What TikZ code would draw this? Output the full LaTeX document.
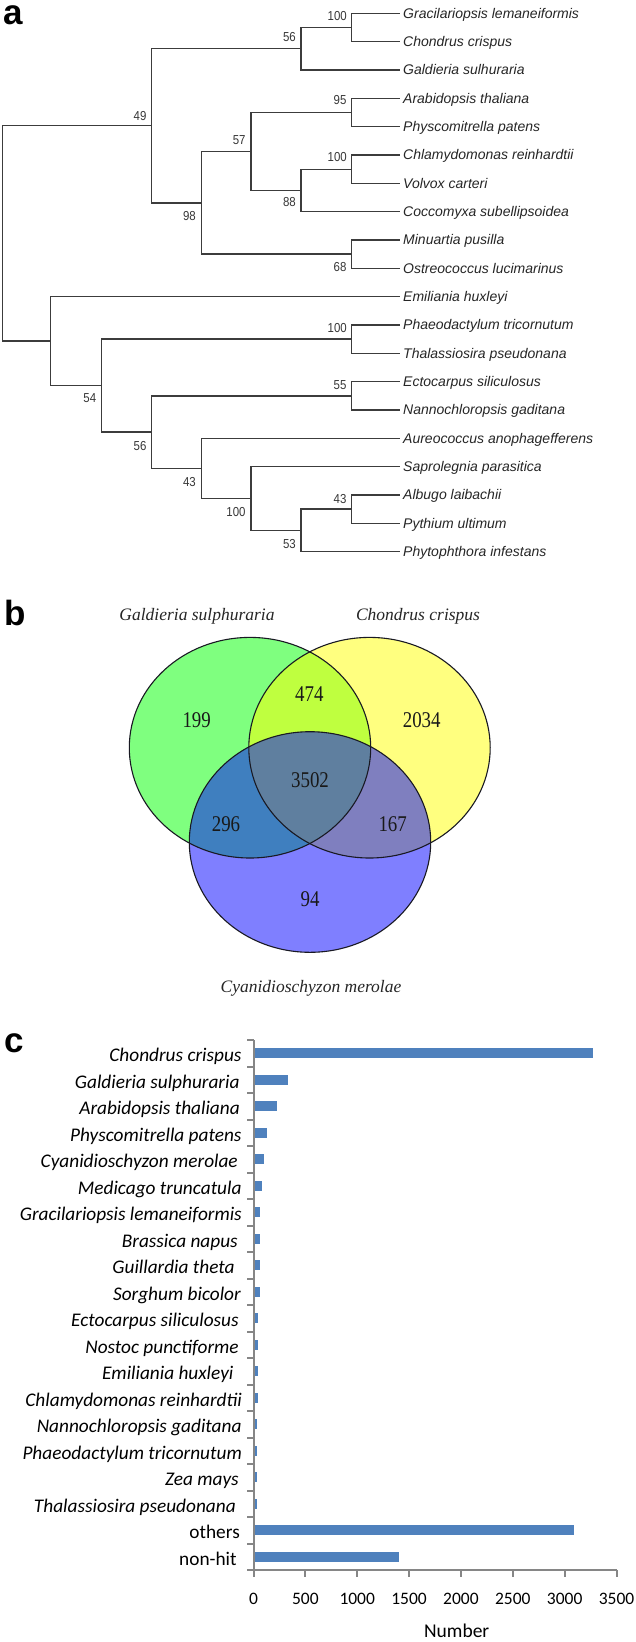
\documentclass[tikz,border=0pt]{standalone}
\usepackage{fontspec}
\usepackage{graphicx}
\setmainfont{Liberation Sans}
\newfontfamily\vennfont{Liberation Serif}
\newfontfamily\barfont{Carlito}
\definecolor{treeline}{RGB}{60,60,60}
\definecolor{bootgray}{RGB}{55,55,55}
\definecolor{barblue}{RGB}{79,129,189}
\definecolor{axisgray}{RGB}{134,134,134}
\definecolor{vgreen}{RGB}{0,255,0}
\definecolor{vyellow}{RGB}{255,255,0}
\definecolor{vblue}{RGB}{0,0,255}
\definecolor{vline}{RGB}{25,25,35}
\newcommand{\bsv}[1]{\scalebox{0.88}[1]{#1}}
\newcommand{\vnum}[1]{\scalebox{0.84}[1]{#1}}
\tikzset{
  branch/.style={draw=treeline, line width=1.4pt},
  leaf/.style={anchor=base west, inner sep=0pt, text=black!85, font=\fontsize{14}{16}\selectfont\itshape},
  boot/.style={anchor=base east, inner sep=0pt, text=bootgray, font=\fontsize{13}{14}\selectfont},
  panel/.style={anchor=base west, inner sep=0pt, font=\fontsize{35}{37}\selectfont\bfseries},
  vtitle/.style={anchor=base, inner sep=0pt, font=\vennfont\fontsize{17.5}{19}\selectfont\itshape, text=black!85},
  vcount/.style={anchor=base, inner sep=0pt, font=\vennfont\fontsize{22.5}{24}\selectfont, text=black!90},
  vring/.style={draw=vline, line width=1.1pt},
  barlab/.style={anchor=base east, inner sep=0pt, font=\barfont\fontsize{19.3}{21}\selectfont},
  ticklab/.style={anchor=base, inner sep=0pt, font=\barfont\fontsize{17.5}{19}\selectfont},
  axisline/.style={draw=axisgray, line width=2pt},
}
\begin{document}
\begin{tikzpicture}[x=1pt,y=-1pt]
\fill[white] (0,0) rectangle (635,1642);
\useasboundingbox (0,0) rectangle (635,1642);

% ---------------- panel a : tree ----------------
\node[panel] (pa) at (3,24.5) {a};
\foreach \nm [count=\i from 0] in {Gracilariopsis lemaneiformis, Chondrus crispus, Galdieria sulhuraria, Arabidopsis thaliana, Physcomitrella patens, Chlamydomonas reinhardtii, Volvox carteri, Coccomyxa subellipsoidea, Minuartia pusilla, Ostreococcus lucimarinus, Emiliania huxleyi, Phaeodactylum tricornutum, Thalassiosira pseudonana, Ectocarpus siliculosus, Nannochloropsis gaditana, Aureococcus anophagefferens, Saprolegnia parasitica, Albugo laibachii, Pythium ultimum, Phytophthora infestans}{
  \pgfmathsetmacro\yy{13.3+28.33*\i}
  \coordinate (L\i) at (400,\yy);
  \node[leaf] (T\i) at (403,\yy+5) {\nm};
}
\coordinate (R) at (2.5,233.4);
\coordinate (n49) at (151.4,125.7);
\coordinate (nA56) at (300.8,48.7);
\coordinate (nA100) at (351.4,27.5);
\coordinate (n98) at (201.2,202.8);
\coordinate (n57) at (251,151.4);
\coordinate (n95) at (351.4,112.5);
\coordinate (n88) at (300.8,190.4);
\coordinate (nB100) at (351.4,169.2);
\coordinate (n68) at (351.4,254.1);
\coordinate (nE) at (50.6,341.1);
\coordinate (n54) at (101.2,385.6);
\coordinate (nC100) at (351.4,339.1);
\coordinate (nB56) at (151.4,432.1);
\coordinate (n55) at (351.4,395.8);
\coordinate (nB43) at (201.2,468.4);
\coordinate (nD100) at (251,498.5);
\coordinate (n53) at (300.8,530.3);
\coordinate (n43a) at (351.4,509.1);

\draw[branch] (R) |- (n49);   \draw[branch] (R) |- (nE);
\draw[branch] (n49) |- (nA56); \draw[branch] (n49) |- (n98);
\draw[branch] (nA56) |- (nA100); \draw[branch] (nA56) |- (L2);
\draw[branch] (nA100) |- (L0); \draw[branch] (nA100) |- (L1);
\draw[branch] (n98) |- (n57); \draw[branch] (n98) |- (n68);
\draw[branch] (n57) |- (n95); \draw[branch] (n57) |- (n88);
\draw[branch] (n95) |- (L3); \draw[branch] (n95) |- (L4);
\draw[branch] (n88) |- (nB100); \draw[branch] (n88) |- (L7);
\draw[branch] (nB100) |- (L5); \draw[branch] (nB100) |- (L6);
\draw[branch] (n68) |- (L8); \draw[branch] (n68) |- (L9);
\draw[branch] (nE) |- (L10); \draw[branch] (nE) |- (n54);
\draw[branch] (n54) |- (nC100); \draw[branch] (n54) |- (nB56);
\draw[branch] (nC100) |- (L11); \draw[branch] (nC100) |- (L12);
\draw[branch] (nB56) |- (n55); \draw[branch] (nB56) |- (nB43);
\draw[branch] (n55) |- (L13); \draw[branch] (n55) |- (L14);
\draw[branch] (nB43) |- (L15); \draw[branch] (nB43) |- (nD100);
\draw[branch] (nD100) |- (L16); \draw[branch] (nD100) |- (n53);
\draw[branch] (n53) |- (n43a); \draw[branch] (n53) |- (L19);
\draw[branch] (n43a) |- (L17); \draw[branch] (n43a) |- (L18);

\node[boot] (bA100) at (347,20.6) {\bsv{100}};
\node[boot] (bA56) at (296,41.6) {\bsv{56}};
\node[boot] (b49) at (146.6,120.1) {\bsv{49}};
\node[boot] (b95) at (346.6,104.6) {\bsv{95}};
\node[boot] (b57) at (245.7,144.6) {\bsv{57}};
\node[boot] (bB100) at (347,161.9) {\bsv{100}};
\node[boot] (b88) at (296,206.9) {\bsv{88}};
\node[boot] (b98) at (196,220.6) {\bsv{98}};
\node[boot] (b68) at (346.6,271.3) {\bsv{68}};
\node[boot] (bC100) at (347,332.9) {\bsv{100}};
\node[boot] (b54) at (96.4,402.9) {\bsv{54}};
\node[boot] (bB56) at (146.6,450.3) {\bsv{56}};
\node[boot] (b55) at (346.6,389.6) {\bsv{55}};
\node[boot] (bB43) at (196,486.3) {\bsv{43}};
\node[boot] (bD100) at (245.7,516.3) {\bsv{100}};
\node[boot] (b53) at (296,548.9) {\bsv{53}};
\node[boot] (b43a) at (346.6,503.6) {\bsv{43}};

% ---------------- panel b : Venn ----------------
\node[panel] (pb) at (4,625) {b};
\node[vtitle] (vtg) at (197,620) {Galdieria sulphuraria};
\node[vtitle] (vtc) at (418,620) {Chondrus crispus};
\node[vtitle] (vtm) at (311,992) {Cyanidioschyzon merolae};
\fill[vgreen, fill opacity=0.5] (250,747.7) ellipse [x radius=120.7, y radius=110.3];
\fill[vyellow, fill opacity=0.5] (369.5,747.7) ellipse [x radius=120.7, y radius=110.3];
\fill[vblue, fill opacity=0.5] (310,842) ellipse [x radius=120.7, y radius=110.3];
\draw[vring] (250,747.7) ellipse [x radius=120.7, y radius=110.3];
\draw[vring] (369.5,747.7) ellipse [x radius=120.7, y radius=110.3];
\draw[vring] (310,842) ellipse [x radius=120.7, y radius=110.3];
\node[vcount] (v199) at (196.7,727.8) {\vnum{199}};
\node[vcount] (v474) at (309.3,701) {\vnum{474}};
\node[vcount] (v2034) at (421.7,727.8) {\vnum{2034}};
\node[vcount] (v3502) at (310,787.8) {\vnum{3502}};
\node[vcount] (v296) at (226,831.8) {\vnum{296}};
\node[vcount] (v167) at (392.7,831.8) {\vnum{167}};
\node[vcount] (v94) at (310,906) {\vnum{94}};

% ---------------- panel c : bar chart ----------------
\node[panel] (pc) at (4,1052) {c};
\foreach \lab/\val/\rx [count=\i from 0] in {
  {\itshape Chondrus crispus}/3273/241.7,
  {\itshape Galdieria sulphuraria}/328/239.7,
  {\itshape Arabidopsis thaliana}/231/240,
  {\itshape Physcomitrella patens}/132/241.7,
  {\itshape Cyanidioschyzon merolae}/106/238,
  {\itshape Medicago truncatula}/85/241.7,
  {\itshape Gracilariopsis lemaneiformis}/62/242,
  {\itshape Brassica napus}/62/238,
  {\itshape Guillardia theta}/62/234.8,
  {\itshape Sorghum bicolor}/62/241,
  {\itshape Ectocarpus siliculosus}/46/238.9,
  {\itshape Nostoc punctiforme}/46/238.9,
  {\itshape Emiliania huxleyi}/46/233.6,
  {\itshape Chlamydomonas reinhardtii}/46/242,
  {\itshape Nannochloropsis gaditana}/34/241.7,
  {\itshape Phaeodactylum tricornutum}/34/242,
  {\itshape Zea mays}/34/238.9,
  {\itshape Thalassiosira pseudonana}/34/236,
  {others}/3090/240,
  {non-hit}/1404/236.8}{
  \pgfmathsetmacro\yc{1053.25+26.5*\i}
  \pgfmathsetmacro\xe{253.5+0.10374*\val}
  \fill[barblue] (253.5,\yc-5.2) rectangle (\xe,\yc+5.2);
  \node[barlab] (C\i) at (\rx,\yc+8.3) {\lab};
}
\coordinate (ytop) at (253.5,1040);
\coordinate (org) at (253.5,1570);
\coordinate (xend) at (616.6,1570);
\draw[axisline] (ytop) -- (org) -- (xend);
\foreach \k in {0,...,20}{
  \draw[axisline] (247,1040+26.5*\k) -- (253.5,1040+26.5*\k);
}
\foreach \v [count=\j from 0] in {0,500,1000,1500,2000,2500,3000,3500}{
  \draw[axisline] (253.5+51.87*\j,1570) -- ++(0,6.5);
  \node[ticklab] (X\j) at (253.5+51.87*\j,1604) {\v};
}
\node[ticklab, font=\barfont\fontsize{19.5}{21}\selectfont] (xlab) at (456.7,1637) {Number};
\end{tikzpicture}
\end{document}
